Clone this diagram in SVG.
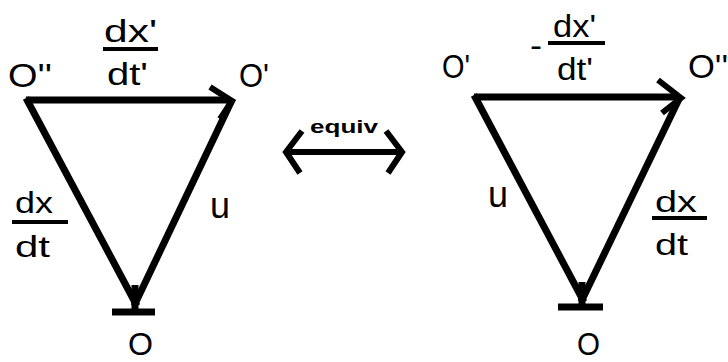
<svg xmlns="http://www.w3.org/2000/svg" width="728" height="362" viewBox="0 0 728 362">
<style>
.t{font-family:"Liberation Sans",Arial,sans-serif;fill:#000;}
.ln{stroke:#000;stroke-width:7;fill:none;stroke-linecap:butt;stroke-linejoin:miter;}
.hd{stroke:#000;stroke-width:6;fill:none;stroke-linecap:butt;stroke-linejoin:miter;}
.bar{stroke:#000;stroke-width:4;}
</style>
<rect width="728" height="362" fill="#fff"/>
<g id="connectors">
<line class="ln" x1="26" y1="100" x2="230" y2="100"/>
<polyline class="hd" points="210,87 232,101 220,119"/>
<line class="ln" x1="26" y1="98" x2="137" y2="306"/>
<line class="ln" x1="232" y1="100" x2="134" y2="306"/>
<line class="ln" x1="135" y1="285" x2="135" y2="310"/>
<line class="ln" x1="112" y1="312" x2="155" y2="312"/>
<line class="hd" x1="287" y1="152" x2="400" y2="152"/>
<polyline class="hd" points="302,131 286,152 300,173"/>
<polyline class="hd" points="386,131 402,152 388,173"/>
<line class="ln" x1="474" y1="97" x2="678" y2="97"/>
<polyline class="hd" points="658,80 681,98 662,113"/>
<line class="ln" x1="474" y1="95" x2="584" y2="302"/>
<line class="ln" x1="680" y1="97" x2="581" y2="302"/>
<line class="ln" x1="582" y1="282" x2="582" y2="305"/>
<line class="ln" x1="558" y1="307" x2="603" y2="307"/>
</g>
<g id="node-left-Opp"><text class="t" x="8" y="87" font-size="34" textLength="44" lengthAdjust="spacingAndGlyphs">O''</text></g>
<g id="node-left-Op"><text class="t" x="239" y="87" font-size="34" textLength="30" lengthAdjust="spacingAndGlyphs">O'</text></g>
<g id="node-left-O"><text class="t" x="128" y="355" font-size="32" textLength="25" lengthAdjust="spacingAndGlyphs">O</text></g>
<g id="label-left-dxp">
<text class="t" x="104" y="42" font-size="32" textLength="53" lengthAdjust="spacingAndGlyphs">dx'</text>
<line class="bar" x1="103" y1="49" x2="158" y2="49"/>
<text class="t" x="107" y="85" font-size="32" textLength="41" lengthAdjust="spacingAndGlyphs">dt'</text>
</g>
<g id="label-left-dx">
<text class="t" x="15" y="213" font-size="30" textLength="38" lengthAdjust="spacingAndGlyphs">dx</text>
<line class="bar" x1="12" y1="222" x2="68" y2="222"/>
<text class="t" x="15" y="257" font-size="30" textLength="35" lengthAdjust="spacingAndGlyphs">dt</text>
</g>
<g id="label-left-u"><text class="t" x="210" y="218" font-size="36" textLength="20" lengthAdjust="spacingAndGlyphs">u</text></g>
<g id="label-equiv"><text class="t" x="310" y="133" font-size="18" font-weight="bold" textLength="68" lengthAdjust="spacingAndGlyphs">equiv</text></g>
<g id="node-right-Op"><text class="t" x="442" y="78" font-size="34" textLength="28" lengthAdjust="spacingAndGlyphs">O'</text></g>
<g id="node-right-Opp"><text class="t" x="688" y="78" font-size="34" textLength="40" lengthAdjust="spacingAndGlyphs">O''</text></g>
<g id="node-right-O"><text class="t" x="577" y="355" font-size="32" textLength="23" lengthAdjust="spacingAndGlyphs">O</text></g>
<g id="label-right-dxp">
<text class="t" x="530" y="57" font-size="34" textLength="12" lengthAdjust="spacingAndGlyphs">-</text>
<text class="t" x="553" y="37" font-size="32" textLength="43" lengthAdjust="spacingAndGlyphs">dx'</text>
<line class="bar" x1="548" y1="43" x2="605" y2="43"/>
<text class="t" x="557" y="80" font-size="32" textLength="36" lengthAdjust="spacingAndGlyphs">dt'</text>
</g>
<g id="label-right-u"><text class="t" x="488" y="207" font-size="36" textLength="20" lengthAdjust="spacingAndGlyphs">u</text></g>
<g id="label-right-dx">
<text class="t" x="655" y="212" font-size="30" textLength="42" lengthAdjust="spacingAndGlyphs">dx</text>
<line class="bar" x1="652" y1="218" x2="707" y2="218"/>
<text class="t" x="655" y="255" font-size="30" textLength="33" lengthAdjust="spacingAndGlyphs">dt</text>
</g>
</svg>
